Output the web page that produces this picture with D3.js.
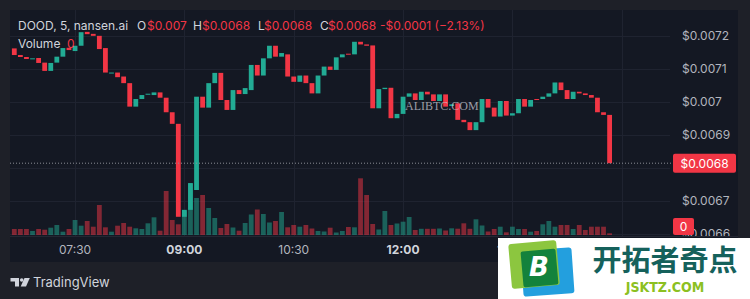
<!DOCTYPE html>
<html>
<head>
<meta charset="utf-8">
<script src="https://cdn.jsdelivr.net/npm/d3@7"></script>
<style>
body { margin: 0; background: #1e2028; }
svg { display: block; }
text { font-family: Inter, "Noto Sans", sans-serif; }
</style>
</head>
<body>
<script>
var w = 750;
var h = 299;

// 5 minute candles, first one at 06:40
var startTime = "2024-05-20T06:40";
var opens = [
	0.007161,0.007141,0.007135,0.007129,0.007132,0.007118,0.007093,0.007118,0.007136,0.007163,
	0.007153,0.007169,0.007211,0.007205,0.007199,0.007162,0.007087,0.007088,0.007076,0.007056,
	0.006985,0.007008,0.007021,0.007020,0.007028,0.007012,0.006968,0.006933,0.006652,0.006673,
	0.006733,0.007015,0.006982,0.007056,0.007087,0.007005,0.006975,0.007035,0.007023,0.007035,
	0.007111,0.007079,0.007131,0.007169,0.007136,0.007143,0.007076,0.007060,0.007079,0.007056,
	0.007025,0.007079,0.007106,0.007096,0.007134,0.007145,0.007143,0.007181,0.007173,0.007170,
	0.006980,0.007038,0.007042,0.006950,0.006963,0.007015,0.007025,0.007005,0.007030,0.007022,
	0.007002,0.007022,0.006987,0.006995,0.006945,0.006938,0.006914,0.006938,0.007008,0.006982,
	0.006955,0.007002,0.006958,0.006965,0.007008,0.006985,0.007008,0.007008,0.007015,0.007025,
	0.007058,0.007035,0.007008,0.007030,0.007025,0.007020,0.007012,0.006968,0.006960
];
var closes = [
	0.007141,0.007135,0.007129,0.007131,0.007117,0.007093,0.007117,0.007136,0.007162,0.007156,
	0.007169,0.007210,0.007204,0.007199,0.007159,0.007088,0.007088,0.007074,0.007056,0.006985,
	0.007008,0.007020,0.007024,0.007028,0.007012,0.006968,0.006933,0.006652,0.006673,0.006754,
	0.007015,0.006982,0.007056,0.007087,0.007005,0.006975,0.007035,0.007023,0.007041,0.007111,
	0.007079,0.007131,0.007169,0.007136,0.007147,0.007076,0.007060,0.007079,0.007056,0.007025,
	0.007079,0.007106,0.007096,0.007134,0.007143,0.007142,0.007181,0.007173,0.007169,0.006980,
	0.007038,0.007042,0.006950,0.006963,0.007015,0.007025,0.007005,0.007030,0.007022,0.007002,
	0.007022,0.006985,0.006992,0.006945,0.006938,0.006914,0.006938,0.007008,0.006982,0.006955,
	0.007002,0.006958,0.006965,0.007008,0.006985,0.007005,0.007006,0.007015,0.007025,0.007058,
	0.007035,0.007008,0.007030,0.007025,0.007020,0.007012,0.006968,0.006960,0.006814
];
var volumes = [
	6,6,6,4,6,5.3,7.3,10,3.3,6,
	15,9.3,14,8.3,30,7.7,3.3,9.3,12,8.3,
	6.7,6,11.7,17.7,4.3,44,15,10.7,24,51,
	37,40,27,17,7,11,7.5,4.3,12,20.5,
	25.5,21,12.5,14,23,7.7,10,8.3,10,6.5,
	4,3.5,7.3,2.5,4,8,7.7,56.7,40,11,
	5.5,24,10,11.5,13.3,18,5,6.2,6.2,6.2,
	6.5,4.5,6.7,6.3,11.7,6.2,15.7,9.5,3.5,6,
	8.3,2.7,8.3,6,6,3.3,4,10.7,14,8.3,
	10,10,6,10,5,8.3,8.3,8.3,1.7
];
var priceTicks = [0.0066, 0.0067, 0.0068, 0.0069, 0.007, 0.0071, 0.0072];
var timeTicks = ["07:30", "09:00", "10:30", "12:00", "13:30", "15:00"];
var lastLabel = "$0.0068";
var volLabel = "0";

var upCol = "#22ab94";
var downCol = "#f23645";

var svg = d3.select("body")
	.append("svg")
	.attr("width", w)
	.attr("height", h);

var parseT = d3.utcParse("%Y-%m-%dT%H:%M");
var t0 = parseT(startTime);
var day = startTime.substring(0, 11);

var candles = opens.map(function(o, i){
	return {
		t: d3.utcMinute.offset(t0, 5 * i),
		o: o,
		c: closes[i],
		v: volumes[i]
	};
});

var x = d3.scaleUtc()
	.domain([candles[0].t, candles[candles.length - 1].t])
	.range([14.3, 609.6]);
var y = d3.scaleLinear().domain([0.0066, 0.0072]).range([234, 35.5]);
var yv = d3.scaleLinear().domain([0, 60]).range([235, 175]);
var bw = 4.8;

// pane
svg.append("rect").attr("x", 0).attr("y", 0).attr("width", w).attr("height", h).attr("fill", "#1e2028");
svg.append("rect").attr("x", 10).attr("y", 10).attr("width", 728).attr("height", 252).attr("fill", "#141823");

var defs = svg.append("defs");
defs.append("clipPath").attr("id", "plot")
	.append("rect").attr("x", 10).attr("y", 10).attr("width", 660).attr("height", 226);
defs.append("clipPath").attr("id", "axisclip")
	.append("rect").attr("x", 670).attr("y", 10).attr("width", 68).attr("height", 226);

var tickDates = timeTicks.map(function(s){ return parseT(day + s); });
var lastY = y(closes[closes.length - 1]);

// grid
svg.append("g").selectAll("line")
	.data(priceTicks)
	.enter()
	.append("line")
	.attr("x1", 10).attr("x2", 670)
	.attr("y1", function(d){ return Math.round(y(d)) + 0.5; })
	.attr("y2", function(d){ return Math.round(y(d)) + 0.5; })
	.attr("stroke", "#1f2330");
svg.append("g").selectAll("line")
	.data(tickDates)
	.enter()
	.append("line")
	.attr("x1", function(d){ return Math.round(x(d)) + 0.5; })
	.attr("x2", function(d){ return Math.round(x(d)) + 0.5; })
	.attr("y1", 10).attr("y2", 236)
	.attr("stroke", "#1f2330");

var plot = svg.append("g").attr("clip-path", "url(#plot)");

// volume
plot.selectAll("rect.vol")
	.data(candles)
	.enter()
	.append("rect")
	.attr("class", "vol")
	.attr("x", function(d){ return x(d.t) - bw / 2; })
	.attr("width", bw)
	.attr("y", function(d){ return yv(d.v); })
	.attr("height", function(d){ return yv(0) - yv(d.v); })
	.attr("fill", function(d){ return d.c >= d.o ? upCol : downCol; })
	.attr("fill-opacity", 0.5);

// last price line
svg.append("line")
	.attr("x1", 10).attr("x2", 673)
	.attr("y1", lastY).attr("y2", lastY)
	.attr("stroke", "#8a8d96")
	.attr("stroke-width", 1)
	.attr("stroke-dasharray", "1,2");

// candles
plot.selectAll("rect.candle")
	.data(candles)
	.enter()
	.append("rect")
	.attr("class", "candle")
	.attr("x", function(d){ return x(d.t) - bw / 2; })
	.attr("width", bw)
	.attr("y", function(d){ return y(Math.max(d.o, d.c)); })
	.attr("height", function(d){ return Math.max(1, Math.abs(y(d.o) - y(d.c))); })
	.attr("fill", function(d){ return d.c >= d.o ? upCol : downCol; });

// price axis (the tick under the last price label is hidden by it)
svg.append("g").attr("clip-path", "url(#axisclip)").selectAll("text")
	.data(priceTicks.filter(function(d){ return Math.abs(y(d) - lastY) > 12; }))
	.enter()
	.append("text")
	.attr("x", 682)
	.attr("y", function(d){ return y(d); })
	.attr("dy", "0.35em")
	.attr("font-size", 12)
	.attr("fill", "#b2b5be")
	.text(function(d){ return "$" + (+d.toFixed(4)); });

svg.append("line").attr("x1", 10).attr("x2", 738).attr("y1", 236.5).attr("y2", 236.5).attr("stroke", "#242733");

svg.append("rect").attr("x", 673).attr("y", lastY - 9.5).attr("width", 63).attr("height", 19).attr("rx", 2).attr("fill", downCol);
svg.append("text").attr("x", 704.5).attr("y", lastY).attr("dy", "0.36em")
	.attr("text-anchor", "middle").attr("font-size", 12).attr("fill", "#ffffff").text(lastLabel);

svg.append("rect").attr("x", 673).attr("y", 218).attr("width", 21).attr("height", 17).attr("rx", 2).attr("fill", downCol);
svg.append("text").attr("x", 683.5).attr("y", 226.5).attr("dy", "0.36em")
	.attr("text-anchor", "middle").attr("font-size", 12).attr("fill", "#ffffff").text(volLabel);

// time axis (labels past the corner watermark are covered in the picture)
svg.append("g").selectAll("text")
	.data(tickDates.filter(function(d){ return x(d) < 600; }))
	.enter()
	.append("text")
	.attr("x", function(d){ return x(d); })
	.attr("y", 250)
	.attr("dy", "0.35em")
	.attr("text-anchor", "middle")
	.attr("font-size", 12)
	.attr("font-weight", function(d){ return d.getUTCMinutes() == 0 ? 700 : 400; })
	.attr("fill", function(d){ return d.getUTCMinutes() == 0 ? "#d1d4dc" : "#b2b5be"; })
	.text(d3.utcFormat("%H:%M"));

// legend
var legend = [
	["DOOD, 5, nansen.ai", 18, "#d1d4dc"],
	["O", 137, "#d1d4dc"], ["$0.007", 147, downCol],
	["H", 193, "#d1d4dc"], ["$0.0068", 202, downCol],
	["L", 258, "#d1d4dc"], ["$0.0068", 264, downCol],
	["C", 320, "#d1d4dc"], ["$0.0068", 328, downCol],
	["-$0.0001 (\u22122.13%)", 380, downCol]
];
svg.append("g").selectAll("text")
	.data(legend)
	.enter()
	.append("text")
	.attr("x", function(d){ return d[1]; })
	.attr("y", 29.5)
	.attr("font-size", 12)
	.attr("fill", function(d){ return d[2]; })
	.text(function(d){ return d[0]; });
svg.append("text").attr("x", 18).attr("y", 48).attr("font-size", 12).attr("fill", "#d1d4dc").text("Volume");
svg.append("text").attr("x", 67).attr("y", 48).attr("font-size", 12).attr("fill", downCol).text(volLabel);

// site watermark in the chart
svg.append("text").attr("x", 405).attr("y", 110)
	.style("font-family", "'Liberation Serif', 'DejaVu Serif', serif")
	.attr("font-size", 12).attr("fill", "#c9cad2").attr("fill-opacity", 0.75)
	.text("ALIBTC.COM");

// footer
var logo = svg.append("g").attr("fill", "#d1d4dc");
logo.append("path").attr("d", "M10.5,278 H19 V286.5 H15 V281.5 H10.5 Z");
logo.append("circle").attr("cx", 21.7).attr("cy", 280).attr("r", 1.8);
logo.append("path").attr("d", "M24.5,278 H29.8 L26,286.5 H20.7 Z");
svg.append("text").attr("x", 33).attr("y", 286.5).attr("font-size", 13).attr("fill", "#d1d4dc").text("TradingView");

// corner watermark
var wm = svg.append("g");
wm.append("rect").attr("x", 498).attr("y", 238).attr("width", 252).attr("height", 61).attr("fill", "#ffffff");
wm.append("rect").attr("x", 522).attr("y", 249).attr("width", 51).attr("height", 46).attr("rx", 3)
	.attr("fill", "#239fde").attr("transform", "rotate(-4 547 272)");
wm.append("rect").attr("x", 510).attr("y", 242).attr("width", 48).attr("height", 45).attr("rx", 3)
	.attr("fill", "#8cc63f").attr("transform", "rotate(-5 534 264)");
wm.append("rect").attr("x", 522).attr("y", 250).attr("width", 35).attr("height", 36).attr("rx", 2)
	.attr("fill", "#13823c").attr("transform", "rotate(-5 539 268)");
wm.append("text").attr("x", 539).attr("y", 276).attr("text-anchor", "middle")
	.style("font-family", "'DejaVu Sans', sans-serif").attr("font-weight", 700).attr("font-style", "italic")
	.attr("font-size", 26).attr("fill", "#ffffff").text("B");
wm.append("text").attr("x", 665).attr("y", 271).attr("text-anchor", "middle")
	.style("font-family", "'Noto Sans CJK SC', sans-serif").attr("font-weight", 700)
	.attr("font-size", 29).attr("fill", "#15615b").text("开拓者奇点");
wm.append("text").attr("x", 665).attr("y", 292).attr("text-anchor", "middle")
	.style("font-family", "'DejaVu Sans Condensed', 'DejaVu Sans', sans-serif").attr("font-weight", 700)
	.attr("font-size", 14).attr("fill", "#8cc021").text("JSKTZ.COM");
</script>
</body>
</html>
